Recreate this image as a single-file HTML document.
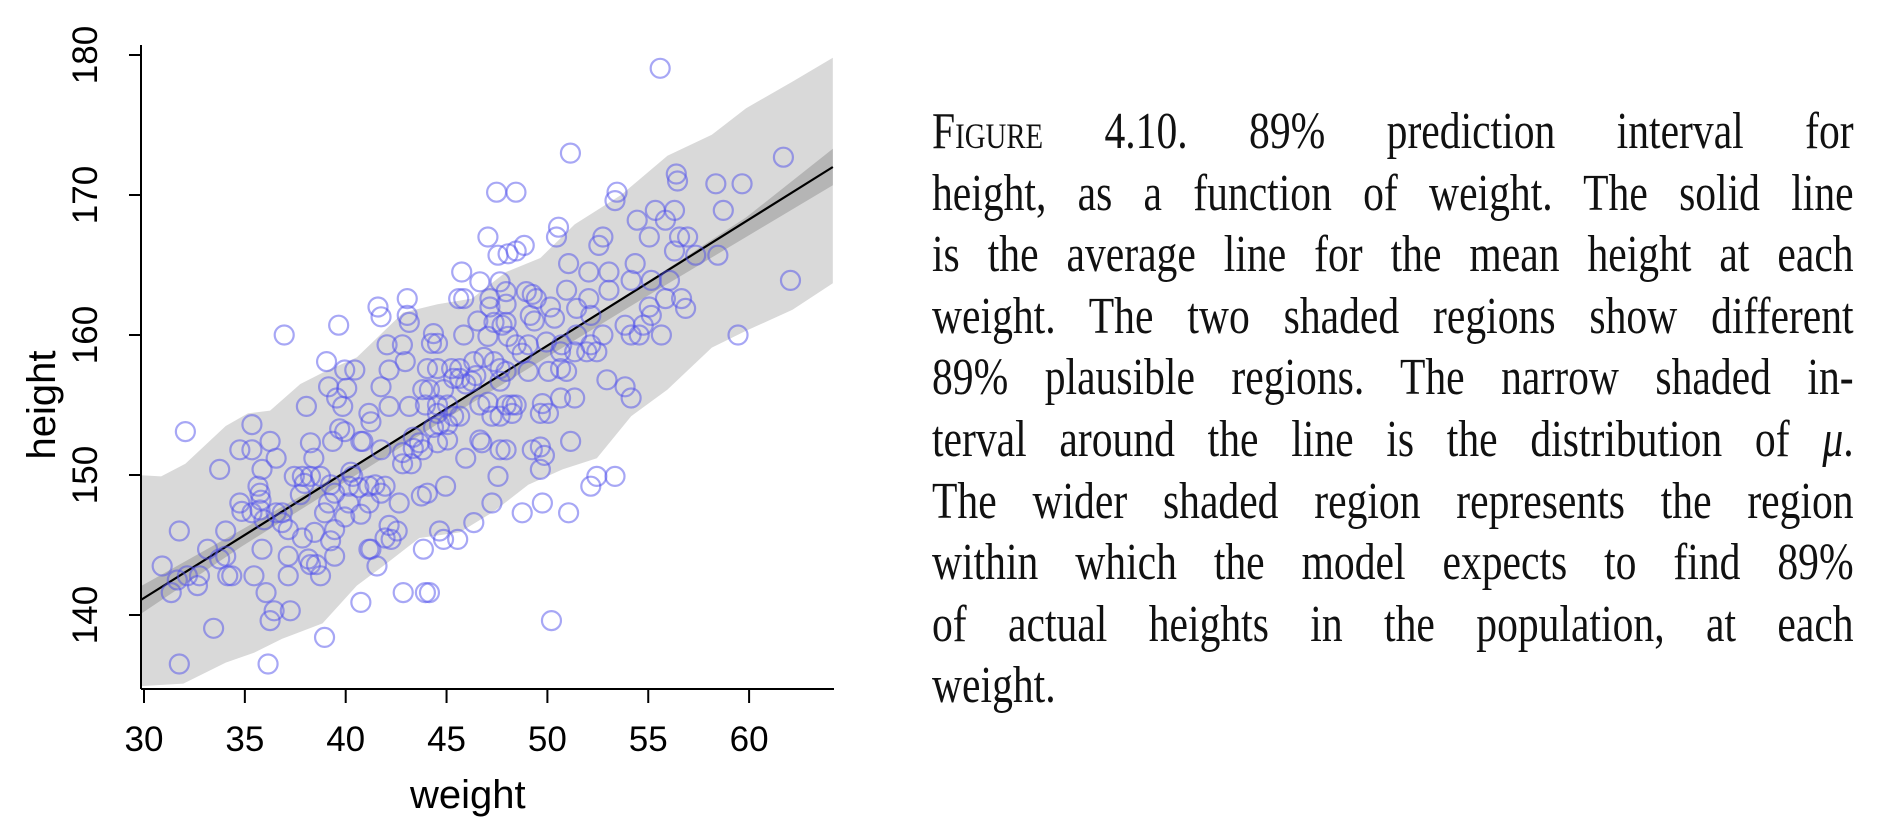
<!DOCTYPE html>
<html><head><meta charset="utf-8"><style>
html,body{margin:0;padding:0;background:#fff;width:1888px;height:836px;overflow:hidden}
svg{position:absolute;left:0;top:0}
#cap{position:absolute;left:932px;top:101px;width:1152px;transform:scaleX(0.8);transform-origin:0 0;font-family:"Liberation Serif",serif;font-size:52px;line-height:61.6px;color:#111}
#cap div{white-space:nowrap;text-align:justify;text-align-last:justify}
#cap div.last{text-align-last:left}
.sc{font-variant:small-caps}
</style></head><body>
<svg id="chart" width="1888" height="836"></svg>
<div id="cap">
<div><span class="sc">Figure</span> 4.10. 89% prediction interval for</div>
<div>height, as a function of weight. The solid line</div>
<div>is the average line for the mean height at each</div>
<div>weight. The two shaded regions show different</div>
<div>89% plausible regions. The narrow shaded in-</div>
<div>terval around the line is the distribution of <i>μ</i>.</div>
<div>The wider shaded region represents the region</div>
<div>within which the model expects to find 89%</div>
<div>of actual heights in the population, at each</div>
<div class="last">weight.</div>
</div>
<script>
const xTicks=[30,35,40,45,50,55,60];
const yTicks=[140,150,160,170,180];
const piUpW=[29.8,31.0,32.2,34.2,35.3,36.4,37.9,39.0,40.7,43.0,44.7,46.4,48.1,49.8,51.5,53.8,56.1,58.3,60.0,62.3,64.3];
const piUpH=[150.0,149.9,150.8,153.5,154.4,154.6,156.5,157.3,158.4,161.6,162.2,162.6,164.5,165.5,167.9,170.0,172.8,174.3,176.2,178.1,179.8];
const piLoW=[29.8,32.1,34.2,35.6,37.0,39.0,40.7,42.1,43.8,45.8,47.5,49.2,50.9,52.6,54.3,56.1,58.3,60.0,62.3,64.3];
const piLoH=[134.9,135.1,136.6,137.3,138.3,139.4,142.1,143.6,145.5,145.9,147.4,149.3,150.4,151.2,154.2,156.1,159.1,160.3,161.8,163.7];
const muW=[29.8,35,40,45,50,55,60,64.3];
const muLo=[139.9,144.9,149.4,153.9,158.3,162.7,167.0,170.7];
const muHi=[141.9,146.1,150.2,154.5,159.1,163.7,168.4,173.3];
const lineW=[29.8,64.3];
const lineH=[140.9,172.0];
const ptW=[55.74,51.29,47.63,48.59,61.85,56.54,56.6,58.5,59.8,53.6,53.5,55.5,56.45,58.87,54.6,56.0,50.7,50.6,47.2,55.2,56.7,57.1,52.9,52.7,49.0,48.6,47.7,48.2,56.45,57.5,58.6,51.2,54.5,45.9,52.2,53.2,54.3,55.3,56.2,62.2,46.8,47.8,43.2,51.1,53.2,48.1,49.1,49.4,49.6,50.3,52.2,56.0,56.8,45.75,46.0,47.3,47.3,48.1,41.75,41.9,51.6,57.0,43.2,43.3,55.2,55.3,52.3,50.5,49.3,49.5,46.7,47.5,47.9,48.1,39.8,37.1,54.0,54.9,54.3,54.7,55.8,59.6,51.6,52.9,46.0,47.2,48.2,44.4,44.7,44.5,42.2,42.96,48.6,49.2,48.9,50.1,50.86,50.8,39.2,43.1,46.5,47.0,47.5,51.5,52.6,52.1,52.3,40.1,40.6,42.3,44.2,44.7,45.4,45.8,47.8,48.1,49.2,50.2,50.8,51.1,45.8,45.5,46.1,46.4,46.6,47.8,53.1,54.0,39.3,40.2,41.9,43.97,44.3,45.0,39.7,50.8,51.5,54.3,38.2,40.0,42.3,43.3,44.1,44.7,45.2,46.8,47.2,48.1,48.4,48.6,49.9,49.8,50.2,41.3,41.4,44.7,45.5,45.8,47.4,47.8,48.4,35.5,39.85,39.5,40.1,44.5,44.8,45.2,32.2,36.4,36.7,40.9,41.0,43.5,43.8,45.2,46.8,46.9,51.3,38.4,34.9,35.5,41.9,42.97,43.5,43.97,44.7,47.8,48.1,49.4,49.8,50.0,38.57,46.1,43.4,42.97,33.9,36.0,49.8,40.4,40.5,37.6,38.0,38.4,38.9,52.6,53.5,47.7,35.8,38.1,39.4,41.6,42.1,45.1,52.3,40.3,40.8,41.3,35.9,37.9,39.6,41.9,43.9,44.2,34.9,35.95,39.3,40.3,41.3,42.8,47.4,49.9,35.0,35.5,35.9,36.7,39.1,40.9,48.9,51.2,37.0,36.1,37.0,40.1,42.3,31.9,34.2,37.3,39.6,44.8,42.7,46.5,38.0,38.6,39.4,42.1,42.4,45.0,45.7,41.4,41.3,36.0,33.3,44.0,34.2,33.9,37.3,38.3,39.6,38.4,38.7,31.05,41.7,32.9,32.3,34.3,34.5,35.6,37.3,38.9,31.8,32.8,31.5,36.2,43.0,44.1,44.3,40.9,36.6,36.4,37.4,50.35,33.6,39.1,31.9,36.3];
const ptH=[179.05,172.99,170.2,170.2,172.7,171.5,171.0,170.8,170.8,170.2,169.6,168.9,168.9,168.9,168.2,168.2,167.7,167.0,167.0,167.0,167.0,167.0,167.0,166.4,166.4,166.0,165.7,165.8,166.0,165.7,165.7,165.1,165.1,164.5,164.5,164.5,163.9,163.9,163.9,163.9,163.8,163.8,162.6,163.2,163.2,163.1,163.1,162.9,162.6,162.0,162.6,162.6,162.6,162.6,162.6,162.6,162.0,162.2,162.0,161.3,161.9,161.9,161.4,160.9,162.0,161.4,161.4,161.2,161.4,161.0,161.0,160.9,160.7,160.9,160.7,160.0,160.7,160.7,160.0,160.0,160.0,160.0,160.0,160.0,160.0,159.9,159.9,159.4,159.4,160.1,159.3,159.3,159.3,159.3,158.7,159.5,159.3,158.8,158.1,158.1,158.1,158.4,158.1,158.8,158.8,158.8,159.3,157.5,157.5,157.5,157.6,157.6,157.6,157.6,157.6,157.4,157.4,157.4,157.6,157.4,156.9,156.9,156.5,156.7,157.1,156.7,156.8,156.3,156.3,156.2,156.3,156.1,156.1,156.1,155.5,155.5,155.5,155.5,154.9,154.9,154.9,154.9,155.0,155.0,155.0,155.0,155.2,155.0,155.0,155.0,155.1,154.4,154.4,154.4,153.8,154.4,154.2,154.2,154.2,154.2,154.4,153.6,153.3,152.4,153.1,153.4,153.6,153.6,153.1,152.4,151.2,152.4,152.4,152.7,152.3,152.5,152.5,152.3,152.4,152.3,151.8,151.8,151.8,151.6,151.9,151.8,152.3,151.8,151.8,151.8,152.0,151.4,151.2,151.2,150.8,150.8,150.4,150.4,150.4,150.2,149.9,149.9,149.9,149.9,149.9,149.9,149.9,149.9,149.2,149.4,149.3,149.3,149.2,149.2,149.2,149.2,149.1,149.2,148.7,148.6,148.7,148.7,148.5,148.7,148.0,148.2,148.0,148.0,148.0,148.0,148.0,148.0,147.4,147.3,147.5,147.3,147.3,147.2,147.3,147.3,147.3,146.8,146.6,147.0,146.4,146.0,146.0,146.1,146.1,146.0,146.0,146.6,145.5,145.9,145.3,145.5,145.4,145.4,145.4,144.7,144.7,144.7,144.7,144.7,144.2,144.0,144.2,144.0,144.2,143.6,143.6,143.5,143.5,142.8,142.8,142.8,142.8,142.8,142.8,142.8,142.5,142.1,141.6,141.6,141.6,141.6,141.6,140.9,140.3,139.6,140.3,139.6,139.05,138.4,136.5,136.5];

const NS='http://www.w3.org/2000/svg';
const svg=document.getElementById('chart');
const X0=141,XPX=20.17,Y0=615,YPX=14.0;
function xs(w){return X0+(w-30)*XPX;}
function ys(h){return Y0-(h-140)*YPX;}
function mk(tag,attrs,parent){const e=document.createElementNS(NS,tag);for(const k in attrs)e.setAttribute(k,attrs[k]);(parent||svg).appendChild(e);return e;}
const PL=141,PR=834,PT=40,PB=689;
const defs=mk('defs',{});
const cp=mk('clipPath',{id:'clip'},defs);
mk('rect',{x:PL,y:PT,width:PR-PL,height:PB-PT},cp);
const g=mk('g',{'clip-path':'url(#clip)'});


function band(wu,hu,wl,hl){let d='';wu.forEach((w,i)=>{d+=(i?'L':'M')+xs(w)+','+ys(hu[i]);});for(let i=wl.length-1;i>=0;i--)d+='L'+xs(wl[i])+','+ys(hl[i]);return d+'Z';}
const pi=mk('path',{d:band(piUpW,piUpH,piLoW,piLoH),fill:'#d9d9d9'},g);


const mu=mk('path',{d:band(muW,muHi,muW,muLo),fill:'#b5b5b5'},g);


const ln=mk('line',{x1:xs(lineW[0]),y1:ys(lineH[0]),x2:xs(lineW[1]),y2:ys(lineH[1]),stroke:'#000','stroke-width':2.2},g);


ptW.forEach((w,i)=>{
  const c=mk('circle',{cx:xs(w),cy:ys(ptH[i]),r:9.5,fill:'none',stroke:'rgba(80,80,235,0.5)','stroke-width':2.2});
  
  
});
const ax=mk('g',{stroke:'#000','stroke-width':2,fill:'none'});


mk('line',{x1:PL,y1:ys(180)-10,x2:PL,y2:PB},ax);
mk('line',{x1:PL,y1:PB,x2:PR,y2:PB},ax);
xTicks.forEach(t=>{
  mk('line',{x1:xs(t)+3,y1:PB,x2:xs(t)+3,y2:PB+14},ax);
  const tx=mk('text',{x:xs(t)+3,y:751,'text-anchor':'middle','font-family':'Liberation Sans, sans-serif','font-size':35,fill:'#000'});
  tx.textContent=t;
  
  
});
yTicks.forEach(t=>{
  mk('line',{x1:PL,y1:ys(t),x2:PL-12,y2:ys(t)},ax);
  const tx=mk('text',{x:0,y:0,'text-anchor':'middle','font-family':'Liberation Sans, sans-serif','font-size':35,fill:'#000',transform:'translate(97,'+ys(t)+') rotate(-90)'});
  tx.textContent=t;
  
  
});
const xt=mk('text',{x:xs(46.2),y:808,'text-anchor':'middle','font-family':'Liberation Sans, sans-serif','font-size':40,fill:'#000'});
xt.textContent='weight';


const yt=mk('text',{x:0,y:0,'text-anchor':'middle','font-family':'Liberation Sans, sans-serif','font-size':40,fill:'#000',transform:'translate(55,'+ys(155)+') rotate(-90)'});
yt.textContent='height';


</script>
</body></html>
